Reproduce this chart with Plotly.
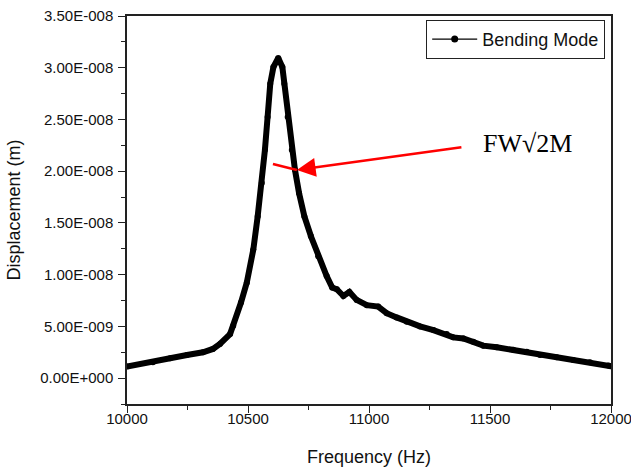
import plotly.graph_objects as go

# Frequency (Hz) and displacement (m)
freq = [10000, 10107, 10178, 10248, 10314, 10355, 10384, 10426, 10439, 10471,
        10495, 10522, 10540, 10557, 10570, 10581, 10592, 10605, 10625, 10642,
        10650, 10664, 10681, 10694, 10711, 10733, 10760, 10790, 10825, 10848,
        10867, 10894, 10919, 10949, 10991, 11038, 11073, 11114, 11156, 11211,
        11266, 11321, 11348, 11390, 11431, 11472, 11528, 11596, 11652, 11707,
        11776, 11844, 11913, 11989, 12000]
disp_e9 = [1.13, 1.54, 1.92, 2.24, 2.50, 2.82, 3.30, 4.26, 5.06, 7.31,
           9.23, 12.43, 15.63, 18.85, 22.07, 25.25, 28.46, 30.06, 30.95, 30.06,
           28.46, 25.25, 22.05, 20.13, 17.88, 15.63, 13.71, 11.79, 9.87, 8.75,
           8.59, 7.94, 8.33, 7.56, 7.05, 6.92, 6.28, 5.87, 5.44, 5.00,
           4.64, 4.26, 3.94, 3.83, 3.52, 3.14, 2.98, 2.75, 2.56, 2.24,
           2.02, 1.76, 1.54, 1.21, 1.15]
disp = [v * 1e-9 for v in disp_e9]

y_tickvals = [0, 5e-9, 1e-8, 1.5e-8, 2e-8, 2.5e-8, 3e-8, 3.5e-8]
y_ticktext = ["0.00E+000", "5.00E-009", "1.00E-008", "1.50E-008",
              "2.00E-008", "2.50E-008", "3.00E-008", "3.50E-008"]
x_tickvals = [10000, 10500, 11000, 11500, 12000]
x_ticktext = ["10000", "10500", "11000", "11500", "12000"]

series_name = "Bending Mode"
label_text = "FW√2M"
# annotation anchor points (data units)
arrow_tip = (10702, 2.012e-8)
arrow_tail = (11388, 2.234e-8)
seg_start = (10603, 2.07e-8)
label_pos = (11657, 2.272e-8)

fig = go.Figure()
fig.add_trace(go.Scatter(
    x=freq, y=disp, mode="lines+markers",
    line=dict(color="black", width=6),
    marker=dict(color="black", size=6),
    showlegend=False, hoverinfo="skip"))
fig.add_trace(go.Scatter(
    x=[None], y=[None], mode="lines+markers", name=series_name,
    line=dict(color="black", width=1.3),
    marker=dict(color="black", size=7)))

fig.add_shape(type="line", xref="x", yref="y",
              x0=seg_start[0], y0=seg_start[1], x1=arrow_tip[0], y1=arrow_tip[1],
              line=dict(color="red", width=2.5))
fig.add_annotation(x=arrow_tip[0], y=arrow_tip[1], ax=arrow_tail[0], ay=arrow_tail[1],
                   xref="x", yref="y", axref="x", ayref="y",
                   showarrow=True, arrowhead=2, arrowsize=1.5, arrowwidth=2.5,
                   arrowcolor="red", text="")
fig.add_annotation(x=label_pos[0], y=label_pos[1], xref="x", yref="y",
                   text=label_text, showarrow=False,
                   font=dict(family="Liberation Serif", size=26, color="black"))

axis_common = dict(showline=True, linecolor="#222", linewidth=1.5, mirror=True,
                   ticks="outside", ticklen=7, tickwidth=1.2, tickcolor="#222",
                   showgrid=False, zeroline=False, ticklabeloverflow="allow",
                   automargin=False,
                   tickfont=dict(family="Liberation Sans", size=15, color="#111"),
                   title_font=dict(family="Liberation Sans", size=18, color="#111"))

fig.update_xaxes(range=[10000, 12000], tickmode="array", tickvals=x_tickvals,
                 ticktext=x_ticktext, title_text="Frequency (Hz)",
                 title_standoff=36, ticklabelstandoff=-7,
                 minor=dict(ticks="outside", ticklen=4, tickwidth=1.2, tickcolor="#222",
                            dtick=250, tick0=10000, showgrid=False),
                 **axis_common)
fig.update_yaxes(range=[-2.5e-9, 3.5e-8], tickmode="array", tickvals=y_tickvals,
                 ticktext=y_ticktext, title_text="Displacement (m)",
                 ticklabelstandoff=2, title_standoff=15,
                 minor=dict(ticks="outside", ticklen=4, tickwidth=1.2, tickcolor="#222",
                            dtick=2.5e-9, tick0=0, showgrid=False),
                 **axis_common)

fig.update_layout(
    width=631, height=467,
    margin=dict(l=127, r=20, t=16, b=63, autoexpand=False),
    plot_bgcolor="white", paper_bgcolor="white",
    legend=dict(x=0.988, y=0.99, xanchor="right", yanchor="top", itemwidth=45,
                bordercolor="#222", borderwidth=1, bgcolor="white",
                font=dict(family="Liberation Sans", size=18, color="#111")),
)

fig.write_html("out.html", config={"displayModeBar": False},
               post_script="document.body.style.margin='0';document.body.style.overflow='hidden';")
